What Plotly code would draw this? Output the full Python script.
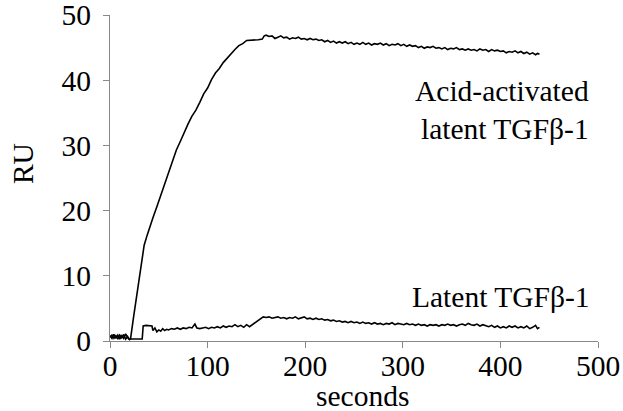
import plotly.graph_objects as go

acid_t = [0, 2, 4, 6, 8, 10, 12, 14, 16, 18, 20, 21, 24, 28, 32, 35, 38, 41, 44, 48,
          52, 56, 60, 64, 68, 72, 76, 80, 84, 88, 92, 96, 100, 104, 108, 112, 116, 120, 124, 128,
          132, 136, 140, 144, 148, 152, 156, 158, 160, 163, 166, 169, 172, 175, 178, 181, 184, 187, 190, 193,
          196, 199, 202, 205, 208, 211, 214, 217, 220, 223, 226, 229, 232, 235, 238, 241, 244, 247, 250, 253,
          256, 259, 262, 265, 268, 271, 274, 277, 280, 283, 286, 289, 292, 295, 298, 301, 304, 307, 310, 313,
          316, 319, 322, 325, 328, 331, 334, 337, 340, 343, 346, 349, 352, 355, 358, 361, 364, 367, 370, 373,
          376, 379, 382, 385, 388, 391, 394, 397, 400, 403, 406, 409, 412, 415, 418, 421, 424, 427, 430, 433,
          436, 438, 440]
acid_ru = [0.6, 0.9, 0.4, 0.8, 0.3, 0.9, 0.5, 1.0, 0.3, 0.7, 0.2, 0.3, 3.5, 7.6, 11.8, 14.7, 16.2, 17.4, 18.9, 20.6,
           22.3, 24.2, 25.8, 27.5, 29.3, 30.6, 32.1, 33.3, 34.5, 35.4, 36.6, 37.9, 38.8, 40.1, 41.1, 41.8, 42.7, 43.4, 44.0, 44.7,
           45.3, 45.6, 46.1, 46.1, 46.2, 46.2, 46.3, 46.8, 46.9, 46.7, 46.8, 46.4, 46.6, 46.8, 46.5, 46.6, 46.3, 46.5, 46.4, 46.6,
           46.3, 46.4, 46.2, 46.4, 46.2, 46.3, 46.1, 46.2, 45.9, 46.1, 45.8, 46.0, 45.7, 45.9, 45.7, 45.9, 45.6, 45.8, 45.5, 45.7,
           45.5, 45.8, 45.5, 45.7, 45.4, 45.6, 45.5, 45.7, 45.4, 45.6, 45.3, 45.5, 45.4, 45.6, 45.3, 45.5, 45.2, 45.4, 45.2, 45.3,
           45.0, 45.2, 44.9, 45.1, 45.0, 45.2, 44.9, 45.0, 44.8, 45.0, 44.7, 44.9, 44.8, 45.0, 44.7, 44.8, 44.6, 44.8, 44.6, 44.7,
           44.5, 44.8, 44.6, 44.7, 44.4, 44.7, 44.5, 44.6, 44.4, 44.5, 44.2, 44.4, 44.3, 44.5, 44.2, 44.4, 44.1, 44.3, 44.0, 44.2,
           43.9, 44.1, 44.0]

latent_t = [0, 2, 4, 6, 8, 10, 12, 14, 16, 18, 19, 33, 34, 37, 40, 43, 44, 46, 48, 50,
            52, 54, 56, 58, 60, 63, 66, 69, 72, 75, 78, 81, 84, 87, 89, 92, 95, 98, 101, 104,
            107, 110, 113, 116, 119, 122, 125, 128, 131, 134, 137, 140, 143, 150, 157, 160, 163, 166, 169, 172,
            175, 178, 181, 184, 187, 190, 193, 196, 199, 202, 205, 208, 211, 214, 217, 220, 223, 226, 229, 232,
            235, 238, 241, 244, 247, 250, 253, 256, 259, 262, 265, 268, 271, 274, 277, 280, 283, 286, 289, 292,
            295, 298, 301, 304, 307, 310, 313, 316, 319, 322, 325, 328, 331, 334, 337, 340, 343, 346, 349, 352,
            355, 358, 361, 364, 367, 370, 373, 376, 379, 382, 385, 388, 391, 394, 397, 400, 403, 406, 409, 412,
            415, 418, 421, 424, 427, 430, 433, 436, 438, 440]
latent_ru = [0.8, 0.4, 1.0, 0.5, 0.9, 0.3, 0.8, 0.4, 1.1, 0.5, 0.3, 0.3, 2.3, 2.4, 2.4, 2.3, 1.6, 2.0, 1.4, 1.7,
             1.5, 1.9, 1.6, 1.8, 1.7, 1.9, 1.8, 2.0, 1.8, 2.0, 1.9, 2.1, 2.0, 2.6, 2.0, 1.9, 2.0, 2.1, 1.9, 2.1,
             2.0, 2.2, 2.0, 2.3, 2.1, 2.3, 2.2, 2.5, 2.2, 2.4, 2.1, 2.5, 2.2, 3.0, 3.7, 3.6, 3.7, 3.5, 3.6, 3.7,
             3.5, 3.6, 3.4, 3.6, 3.5, 3.7, 3.4, 3.6, 3.7, 3.4, 3.5, 3.3, 3.5, 3.3, 3.4, 3.2, 3.3, 3.1, 3.2, 3.0,
             3.1, 2.9, 3.0, 2.8, 3.0, 2.8, 2.9, 2.7, 2.9, 2.7, 2.8, 2.6, 2.8, 2.6, 2.7, 2.5, 2.7, 2.6, 2.8, 2.5,
             2.7, 2.6, 2.5, 2.7, 2.5, 2.6, 2.4, 2.6, 2.4, 2.5, 2.3, 2.5, 2.4, 2.5, 2.3, 2.5, 2.4, 2.6, 2.4, 2.5,
             2.3, 2.5, 2.6, 2.4, 2.7, 2.5, 2.4, 2.6, 2.3, 2.5, 2.4, 2.2, 2.4, 2.1, 2.3, 2.0, 2.2, 2.0, 2.3, 2.1,
             2.3, 2.0, 2.2, 2.0, 2.3, 1.9, 2.1, 2.4, 1.9, 2.1]

x_ticks = [0, 100, 200, 300, 400, 500]
y_ticks = [0, 10, 20, 30, 40, 50]

FONT = "Liberation Serif, serif"
FS = 29.5
AXC = "#888888"

fig = go.Figure()
fig.add_trace(go.Scatter(x=acid_t, y=acid_ru, mode="lines",
                         line=dict(color="black", width=1.6), name="Acid-activated latent TGFβ-1"))
fig.add_trace(go.Scatter(x=latent_t, y=latent_ru, mode="lines",
                         line=dict(color="black", width=1.6), name="Latent TGFβ-1"))

fig.add_annotation(x=493, y=35.5, xref="x", yref="y", text="Acid-activated<br>latent TGFβ-1",
                   showarrow=False, xanchor="right", yanchor="middle", align="right",
                   font=dict(family=FONT, size=FS, color="black"))
fig.add_annotation(x=494, y=6.8, xref="x", yref="y", text="Latent TGFβ-1",
                   showarrow=False, xanchor="right", yanchor="middle", align="right",
                   font=dict(family=FONT, size=FS, color="black"))
# axis titles
fig.add_annotation(x=0.518, y=-0.169, xref="paper", yref="paper", text="seconds",
                   showarrow=False, xanchor="center", yanchor="middle",
                   font=dict(family=FONT, size=FS, color="black"))
fig.add_annotation(x=-0.178, y=0.543, xref="paper", yref="paper", text="RU", textangle=-90,
                   showarrow=False, xanchor="center", yanchor="middle",
                   font=dict(family=FONT, size=FS, color="black"))

fig.update_layout(
    width=623, height=411,
    margin=dict(l=110, r=25, t=15, b=70, autoexpand=False),
    paper_bgcolor="white", plot_bgcolor="white",
    showlegend=False,
    font=dict(family=FONT, size=FS, color="black"),
    xaxis=dict(range=[0, 500], tickvals=x_ticks, ticks="outside", ticklen=6, tickcolor=AXC,
               showline=True, linecolor=AXC, linewidth=1, showgrid=False, zeroline=False,
               automargin=False, ticklabeloverflow="allow", ticklabelstandoff=-7,
               tickfont=dict(family=FONT, size=FS)),
    yaxis=dict(range=[0, 50], tickvals=y_ticks, ticks="outside", ticklen=6, tickcolor=AXC,
               showline=True, linecolor=AXC, linewidth=1, showgrid=False, zeroline=False,
               automargin=False, ticklabeloverflow="allow", ticklabelstandoff=6,
               tickfont=dict(family=FONT, size=FS)),
)

fig.write_html("out.html", config={"displayModeBar": False},
               post_script="document.body.style.margin='0';")
